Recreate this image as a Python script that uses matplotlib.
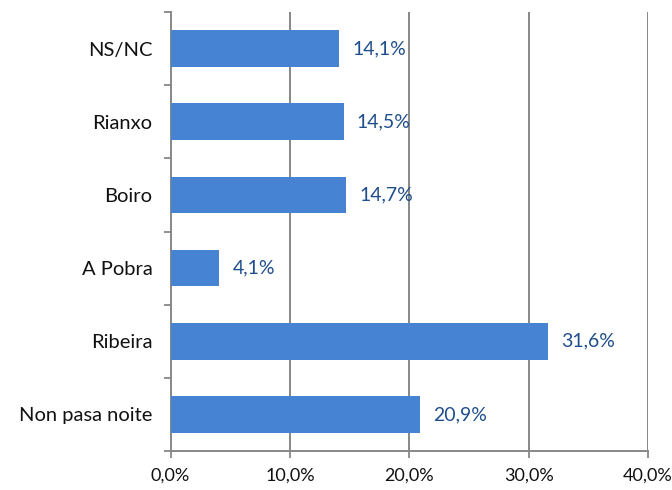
import matplotlib
matplotlib.use("Agg")
import matplotlib.pyplot as plt
from matplotlib.ticker import FixedLocator

categories = ["Non pasa noite", "Ribeira", "A Pobra", "Boiro", "Rianxo", "NS/NC"]
values = [20.9, 31.6, 4.1, 14.7, 14.5, 14.1]
xticks = [0, 10, 20, 30, 40]
xtick_labels = ["0,0%", "10,0%", "20,0%", "30,0%", "40,0%"]

plt.rcParams['font.family'] = ['Lato', 'DejaVu Sans']

fig = plt.figure(figsize=(6.72, 4.90), dpi=100)
ax = fig.add_axes([170.5/672, 1 - 451/490, (648 - 170.5)/672, (451 - 12)/490])

grid_color = "#878787"
bar_color = "#4684D3"
label_color = "#1F4E8C"

y = list(range(len(categories)))
ax.barh(y, values, height=0.5, color=bar_color, zorder=3)

ax.set_xlim(0, 40)
ax.set_ylim(-0.5, len(categories) - 0.5)
ax.set_xticks(xticks)
ax.set_xticklabels(xtick_labels, fontsize=13, color="#111111")
ax.set_yticks(y)
ax.set_yticklabels(categories, fontsize=14.5, color="#111111")
ax.yaxis.set_minor_locator(FixedLocator([i - 0.5 for i in range(len(categories) + 1)]))
ax.tick_params(axis='y', which='major', length=0, pad=13)
ax.tick_params(axis='y', which='minor', length=5, width=1.3, color=grid_color, direction='out')
ax.tick_params(axis='x', which='major', length=5, width=1.3, color=grid_color, direction='out', pad=7)

for x in xticks[1:]:
    ax.axvline(x, color=grid_color, lw=1.4, zorder=1)

for s in ['top', 'right']:
    ax.spines[s].set_visible(False)
for s in ['left', 'bottom']:
    ax.spines[s].set_color(grid_color)
    ax.spines[s].set_linewidth(1.4)

for yi, v in zip(y, values):
    ax.annotate(f"{v:.1f}%".replace('.', ','), xy=(v, yi), xytext=(9.5, 0),
                textcoords='offset points', va='center', ha='left',
                fontsize=14, color=label_color, zorder=4)

fig.savefig("out.png", dpi=100)
